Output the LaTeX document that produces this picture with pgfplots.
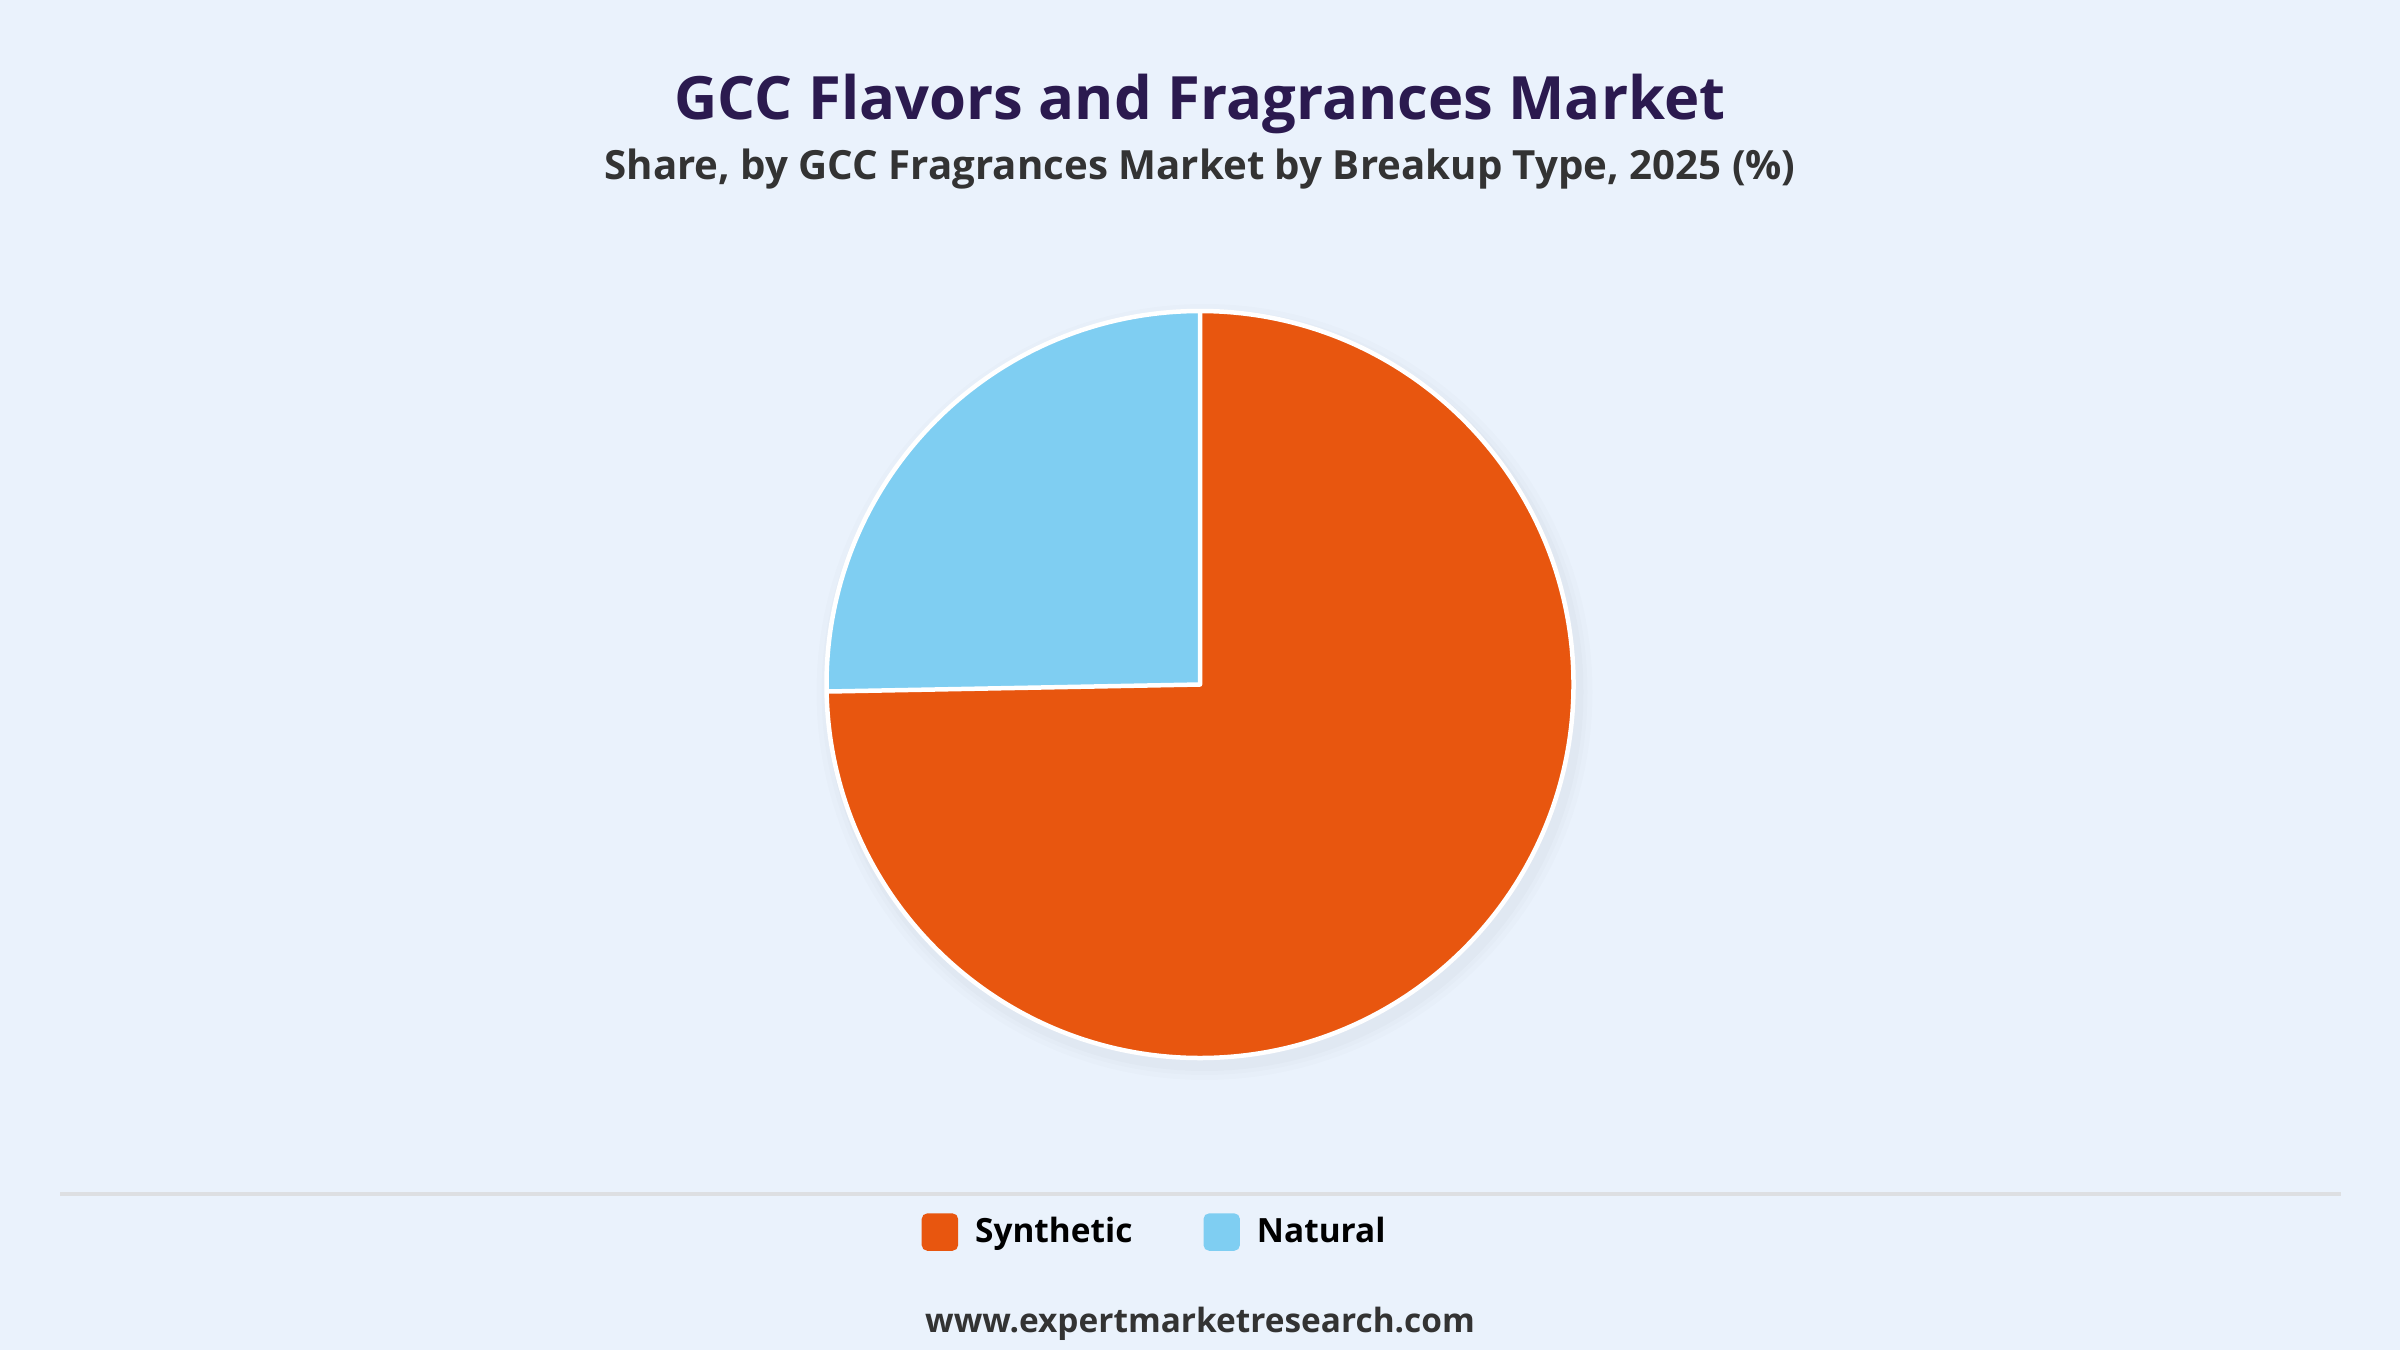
\documentclass[border=0pt]{standalone}
\usepackage{pgfplots}
\pgfplotsset{compat=1.18}
\usepackage{fontspec}
\setmainfont{Open Sans}
\definecolor{bg}{HTML}{EAF2FC}
\definecolor{synth}{HTML}{E8560F}
\definecolor{natur}{HTML}{7FCEF2}
\definecolor{titlec}{HTML}{2B1A4F}
\definecolor{subc}{HTML}{333333}
\definecolor{sepc}{HTML}{DDDFE2}
\def\vSynth{74.7}
\def\vNatur{25.3}
\pgfmathsetmacro{\aEnd}{90-3.6*\vSynth}
\pgfmathsetmacro{\cx}{cos(\aEnd)}
\pgfmathsetmacro{\cy}{sin(\aEnd)}
\begin{document}
\begin{tikzpicture}
\fill[bg] (0,0) rectangle (240mm,135mm);
\useasboundingbox (0,0) rectangle (240mm,135mm);
\node[anchor=base, text=titlec, font=\bfseries\fontsize{17}{20}\selectfont] at (120mm,123mm) {GCC Flavors and Fragrances Market};
\node[anchor=base, text=subc, font=\bfseries\fontsize{11.45}{14}\selectfont] at (120mm,117.07mm) {Share, by GCC Fragrances Market by Breakup Type, 2025 (\%)};
\draw[sepc, line width=0.4mm] (6mm,15.6mm) -- (234.1mm,15.6mm);
\node[anchor=base, text=subc, font=\bfseries\fontsize{9.5}{12}\selectfont] at (120mm,1.8mm) {www.expertmarketresearch.com};
\begin{axis}[
  at={(120mm,66.55mm)}, anchor=center,
  scale only axis, width=74.7mm, height=74.7mm,
  xmin=-1, xmax=1, ymin=-1, ymax=1,
  hide axis, clip=false,
  legend columns=2,
  legend style={at={(0.1265,-0.233)}, anchor=west, draw=none, fill=none, inner sep=0pt,
    font=\bfseries\fontsize{9.5}{12}\selectfont, text=black,
    /tikz/every odd column/.append style={column sep=1mm},
    /tikz/every even column/.append style={column sep=6.4mm}},
  legend image code/.code={\fill[#1, rounded corners=0.5mm] (0mm,-1.8mm) rectangle (3.5mm,1.8mm);},
]
\addlegendimage{synth}
\addlegendentry{Synthetic}
\addlegendimage{natur}
\addlegendentry{Natural}
% soft shadow
\fill[black, opacity=0.012] (axis cs:0.012,-0.02) circle[radius=38.8mm];
\fill[black, opacity=0.012] (axis cs:0.012,-0.02) circle[radius=38.3mm];
\fill[black, opacity=0.015] (axis cs:0.012,-0.02) circle[radius=37.9mm];
\fill[synth] (axis cs:0,0) -- (axis cs:0,1) arc[start angle=90, end angle=\aEnd, radius=37.35mm] -- cycle;
\fill[natur] (axis cs:0,0) -- (axis cs:\cx,\cy) arc[start angle=\aEnd, end angle=-270, radius=37.35mm] -- cycle;
\draw[white, line width=0.45mm, line join=round] (axis cs:0,1) -- (axis cs:0,0) -- (axis cs:\cx,\cy);
\draw[white, line width=0.45mm] (axis cs:0,0) circle[radius=37.35mm];
\end{axis}
\end{tikzpicture}
\end{document}
